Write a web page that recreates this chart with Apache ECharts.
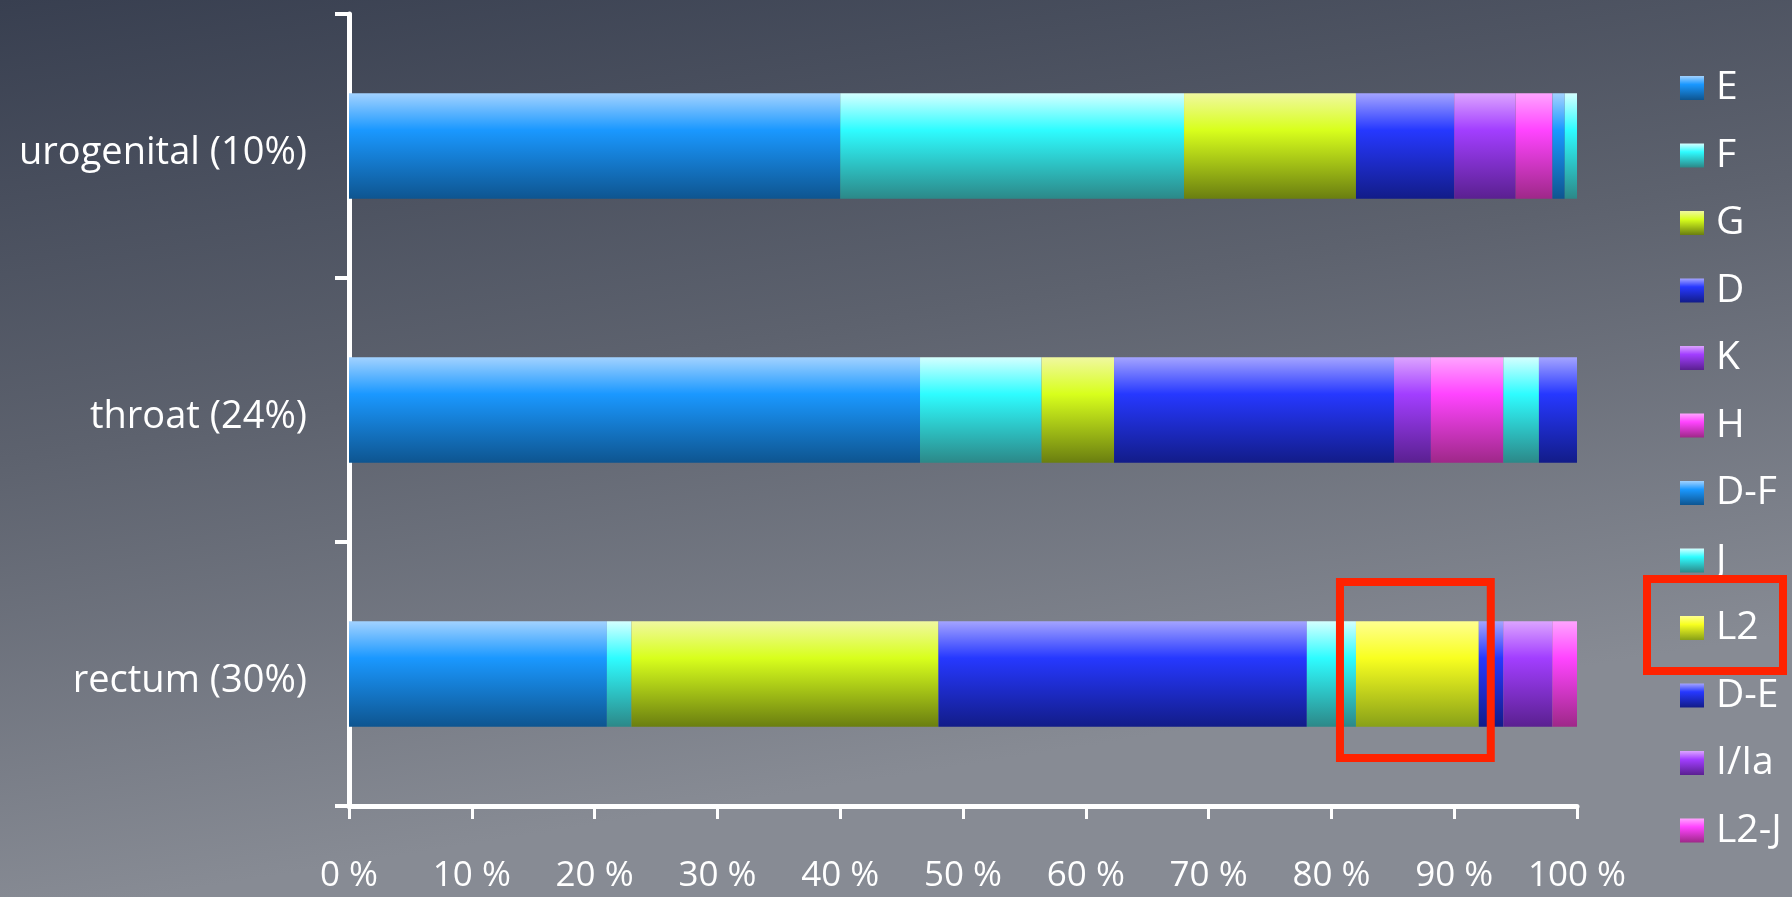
<!DOCTYPE html>
<html>
<head>
<meta charset="utf-8">
<title>serovars by site</title>
<script src="https://cdn.jsdelivr.net/npm/echarts@6/dist/echarts.min.js"></script>
<style>
  html, body { margin: 0; padding: 0; }
  #chart { width: 1792px; height: 897px; }
</style>
</head>
<body>
<div id="chart"></div>
<script>
// sites (top to bottom)
const categories = ['urogenital (10%)', 'throat (24%)', 'rectum (30%)'];
const xTicks = [0, 10, 20, 30, 40, 50, 60, 70, 80, 90, 100];

// share of each serovar per site, in %
const serE = [40, 46.5, 21];
const serF = [28, 9.9, 2];
const serG = [14, 5.9, 25];
const serD = [8, 22.8, 30];
const serK = [5, 3, 0];
const serH = [3, 5.9, 0];
const serDF = [1, 0, 0];
const serJ = [1, 2.9, 4];
const serL2 = [0, 0, 10];
const serDE = [0, 3.1, 2];
const serIIa = [0, 0, 4];
const serL2J = [0, 0, 2];

const seriesNames = ['E', 'F', 'G', 'D', 'K', 'H', 'D-F', 'J', 'L2', 'D-E', 'I/Ia', 'L2-J'];
const seriesData = [serE, serF, serG, serD, serK, serH, serDF, serJ, serL2, serDE, serIIa, serL2J];

function grad(top, mid, bottom) {
  return new echarts.graphic.LinearGradient(0, 0, 0, 1, [
    { offset: 0, color: top },
    { offset: 0.35, color: mid },
    { offset: 1, color: bottom }
  ]);
}

const blue = ['#a2d2ff', '#1a98ff', '#0e5590'];
const cyan = ['#d4ffff', '#2efcff', '#2c8888'];
const lime = ['#f0f8a0', '#d8ff1c', '#6a7e10'];
const navy = ['#a4a4ff', '#2638ff', '#121c88'];
const violet = ['#dca4ff', '#a23eff', '#5a2090'];
const pink = ['#ffa4ff', '#ff44ff', '#9e2888'];
const yellow = ['#ffff90', '#f8ff20', '#88a018'];
const palette = [blue, cyan, lime, navy, violet, pink, blue, cyan, yellow, navy, violet, pink];

const chart = echarts.init(document.getElementById('chart'));

const series = seriesNames.map(function (name, i) {
  return {
    name: name,
    type: 'bar',
    stack: 'total',
    barWidth: '40%',
    itemStyle: { color: grad(palette[i][0], palette[i][1], palette[i][2]) },
    emphasis: { disabled: true },
    data: seriesData[i]
  };
});

const option = {
  animation: false,
  backgroundColor: new echarts.graphic.LinearGradient(0, 0, 0.08, 1, [
    { offset: 0, color: '#383f50' },
    { offset: 0.5, color: '#5d626e' },
    { offset: 1, color: '#878b94' }
  ]),
  textStyle: { fontFamily: 'Open Sans' },
  grid: { left: 349, right: 215, top: 14, bottom: 91 },
  legend: {
    orient: 'vertical',
    left: 1675,
    top: 63,
    icon: 'rect',
    itemWidth: 24,
    itemHeight: 24,
    itemGap: 27.5,
    selectedMode: false,
    data: seriesNames,
    textStyle: {
      color: '#ffffff',
      fontSize: 39,
      lineHeight: 40,
      padding: [0, 0, 0, 7],
      fontFamily: 'Open Sans'
    }
  },
  xAxis: {
    type: 'value',
    min: xTicks[0],
    max: xTicks[xTicks.length - 1],
    interval: 10,
    splitLine: { show: false },
    axisLine: { show: true, lineStyle: { color: '#ffffff', width: 5 } },
    axisTick: { show: true, length: 13, lineStyle: { color: '#ffffff', width: 3 } },
    axisLabel: {
      color: '#ffffff',
      fontSize: 35,
      margin: 53,
      formatter: '{value} %'
    }
  },
  yAxis: {
    type: 'category',
    inverse: true,
    data: categories,
    axisLine: { show: true, lineStyle: { color: '#ffffff', width: 5 } },
    axisTick: { show: true, length: 14, lineStyle: { color: '#ffffff', width: 4 } },
    axisLabel: {
      color: '#ffffff',
      margin: 42,
      formatter: function (v) { return '{s|' + v + '}'; },
      rich: {
        s: { color: '#ffffff', fontSize: 38, fontFamily: 'Open Sans', padding: [14, 0, 0, 0] }
      }
    }
  },
  series: series
};

chart.setOption(option);

// red highlight boxes: around the L2 slice of the rectum bar, and the L2 legend entry
const rectIdx = 2;
let l2Start = 0;
for (let i = 0; i < seriesNames.indexOf('L2'); i++) l2Start += seriesData[i][rectIdx];
const l2End = l2Start + serL2[rectIdx];
const p0 = chart.convertToPixel({ gridIndex: 0 }, [l2Start, rectIdx]);
const p1 = chart.convertToPixel({ gridIndex: 0 }, [l2End, rectIdx]);

chart.setOption({
  graphic: [
    {
      type: 'rect',
      shape: { x: p0[0] - 16, y: p0[1] - 92, width: p1[0] - p0[0] + 28, height: 176 },
      style: { fill: 'none', stroke: '#ff2200', lineWidth: 8 },
      z: 100
    },
    {
      type: 'rect',
      shape: { x: 1647, y: 579, width: 136, height: 92 },
      style: { fill: 'none', stroke: '#ff2200', lineWidth: 8 },
      z: 100
    }
  ]
});
</script>
</body>
</html>
